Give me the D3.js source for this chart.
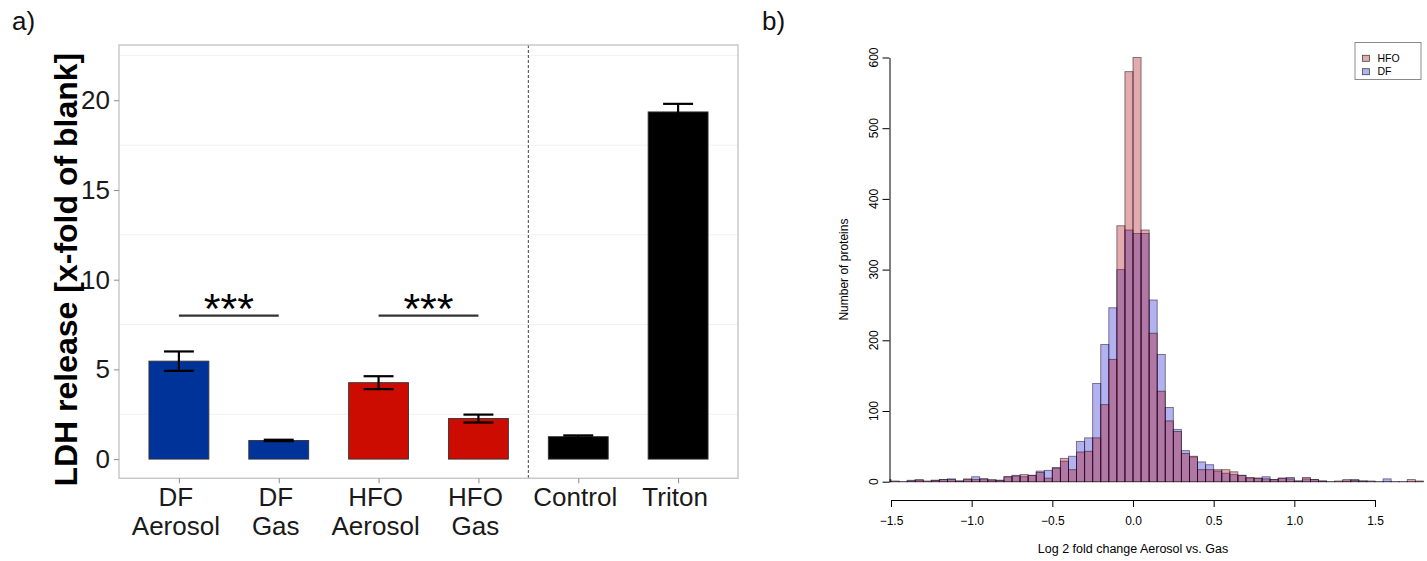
<!DOCTYPE html>
<html lang="en">
<head>
  <meta charset="UTF-8">
  <title>LDH release and log2 fold change</title>
  <script src="https://cdn.jsdelivr.net/npm/d3@7"></script>
  <style>
    body { margin: 0; background: #fff; }
    svg { display: block; font-family: "Liberation Sans", Arial, Helvetica, sans-serif; }
  </style>
</head>
<body>
<svg id="chart" width="1427" height="561"></svg>
<script>
  // ---- panel a : LDH release ----
  const categories = ["DF Aerosol", "DF Gas", "HFO Aerosol", "HFO Gas", "Control", "Triton"];
  const labelTop = ["DF", "DF", "HFO", "HFO", "Control", "Triton"];
  const labelBottom = ["Aerosol", "Gas", "Aerosol", "Gas", "", ""];
  const groups = ["DF", "DF", "HFO", "HFO", "ref", "ref"];
  const ldhMean = [5.46, 1.04, 4.26, 2.26, 1.25, 19.35];
  const ldhErr = [0.54, 0.04, 0.36, 0.22, 0.07, 0.45];
  const yTicksA = [0, 5, 10, 15, 20];
  const yMinorA = [2.5, 7.5, 12.5, 17.5, 22.5];
  const sigPairs = [["DF Aerosol", "DF Gas"], ["HFO Aerosol", "HFO Gas"]];
  const sigHeight = 8;
  const sigLabel = "***";

  // ---- panel b : histogram of log2 fold change ----
  const binWidth = 0.05;
  const binStart = [
    -1.60, -1.55, -1.50, -1.45, -1.40, -1.35, -1.30, -1.25, -1.20, -1.15,
    -1.10, -1.05, -1.00, -0.95, -0.90, -0.85, -0.80, -0.75, -0.70, -0.65,
    -0.60, -0.55, -0.50, -0.45, -0.40, -0.35, -0.30, -0.25, -0.20, -0.15,
    -0.10, -0.05, 0.00, 0.05, 0.10, 0.15, 0.20, 0.25, 0.30, 0.35,
    0.40, 0.45, 0.50, 0.55, 0.60, 0.65, 0.70, 0.75, 0.80, 0.85,
    0.90, 0.95, 1.00, 1.05, 1.10, 1.15, 1.20, 1.25, 1.30, 1.35,
    1.40, 1.45, 1.50, 1.55, 1.60, 1.65, 1.70, 1.75
  ];
  const hfoCounts = [
    1, 1, 1, 0, 1, 3, 1, 2, 3, 3,
    1, 4, 3, 4, 3, 2, 7, 8, 10, 9,
    13, 5, 19, 33, 17, 42, 43, 62, 109, 173,
    362, 580, 600, 356, 210, 128, 86, 71, 40, 36,
    17, 17, 17, 17, 14, 9, 6, 5, 4, 3,
    5, 4, 1, 6, 3, 1, 0, 1, 3, 2,
    1, 1, 0, 0, 0, 0, 3, 1
  ];
  const dfCounts = [
    1, 3, 0, 0, 2, 2, 0, 2, 3, 4,
    1, 3, 7, 4, 2, 2, 7, 9, 7, 9,
    15, 16, 20, 29, 36, 57, 62, 139, 194, 246,
    300, 356, 351, 351, 257, 180, 105, 74, 44, 35,
    28, 24, 15, 12, 10, 9, 5, 5, 7, 3,
    5, 6, 1, 4, 3, 1, 0, 0, 1, 3,
    1, 0, 0, 4, 0, 0, 0, 0
  ];
  const xTicksB = [-1.5, -1, -0.5, 0, 0.5, 1, 1.5];
  const yTicksB = [0, 100, 200, 300, 400, 500, 600];
  const legendLabels = ["HFO", "DF"];

  const svg = d3.select("#chart");

  // =========================== panel a ===========================
  const A = { left: 119, right: 738, top: 45, bottom: 478.3 };
  const groupColor = { DF: "#003399", HFO: "#cc0c00", ref: "#000000" };

  const xA = d3.scalePoint().domain(categories).range([A.left, A.right]).padding(0.6);
  const yA = d3.scaleLinear().domain([-1.07, 23.08]).range([A.bottom, A.top]);
  const barW = xA.step() * 0.6;
  const whisk = xA.step() * 0.3;

  svg.append("text").attr("x", 12).attr("y", 30)
     .attr("font-size", 26).attr("fill", "#111").text("a)");

  // faint grid
  svg.append("g").selectAll("line").data(yMinorA).join("line")
     .attr("x1", A.left).attr("x2", A.right)
     .attr("y1", d => yA(d)).attr("y2", d => yA(d))
     .attr("stroke", "#f1f1f1").attr("stroke-width", 1);

  // bars
  const barData = categories.map((c, i) => ({ c, g: groups[i], m: ldhMean[i], e: ldhErr[i] }));
  svg.append("g").selectAll("rect").data(barData).join("rect")
     .attr("x", d => xA(d.c) - barW / 2)
     .attr("y", d => yA(d.m))
     .attr("width", barW)
     .attr("height", d => yA(0) - yA(d.m))
     .attr("fill", d => groupColor[d.g])
     .attr("stroke", "#333").attr("stroke-width", 0.9);

  // error bars
  const err = svg.append("g").attr("stroke", "#000").attr("stroke-width", 2.2).attr("fill", "none");
  barData.forEach(d => {
    const x = xA(d.c);
    err.append("line").attr("x1", x).attr("x2", x).attr("y1", yA(d.m - d.e)).attr("y2", yA(d.m + d.e));
    err.append("line").attr("x1", x - whisk / 2).attr("x2", x + whisk / 2).attr("y1", yA(d.m + d.e)).attr("y2", yA(d.m + d.e));
    err.append("line").attr("x1", x - whisk / 2).attr("x2", x + whisk / 2).attr("y1", yA(d.m - d.e)).attr("y2", yA(d.m - d.e));
  });

  // significance brackets
  sigPairs.forEach(([a, b]) => {
    svg.append("line")
       .attr("x1", xA(a)).attr("x2", xA(b))
       .attr("y1", yA(sigHeight)).attr("y2", yA(sigHeight))
       .attr("stroke", "#333").attr("stroke-width", 2.2);
    svg.append("text")
       .attr("x", (xA(a) + xA(b)) / 2).attr("y", yA(sigHeight) + 7)
       .attr("text-anchor", "middle").attr("font-size", 43).attr("fill", "#000")
       .text(sigLabel);
  });

  // dashed separator between samples and controls
  const sepX = (xA("HFO Gas") + xA("Control")) / 2;
  svg.append("line").attr("x1", sepX).attr("x2", sepX).attr("y1", A.top).attr("y2", A.bottom)
     .attr("stroke", "#444").attr("stroke-width", 1).attr("stroke-dasharray", "3,2");

  // panel border
  svg.append("rect").attr("x", A.left).attr("y", A.top)
     .attr("width", A.right - A.left).attr("height", A.bottom - A.top)
     .attr("fill", "none").attr("stroke", "#c6c6c6").attr("stroke-width", 1.4);

  // y axis
  const yAxisA = svg.append("g").attr("transform", `translate(${A.left},0)`)
     .call(d3.axisLeft(yA).tickValues(yTicksA).tickSize(5).tickPadding(4));
  yAxisA.select(".domain").remove();
  yAxisA.selectAll("line").attr("stroke", "#8a8a8a");
  yAxisA.selectAll("text").attr("font-size", 26).attr("font-family", "Liberation Sans, Arial, sans-serif").attr("fill", "#1a1a1a");

  // x axis (ticks only, two-line labels below)
  const xAxisA = svg.append("g").attr("transform", `translate(0,${A.bottom})`)
     .call(d3.axisBottom(xA).tickSize(5).tickFormat(""));
  xAxisA.select(".domain").remove();
  xAxisA.selectAll("line").attr("stroke", "#8a8a8a");

  const xLab = svg.append("g").attr("font-size", 26).attr("fill", "#1a1a1a").attr("text-anchor", "middle");
  categories.forEach((c, i) => {
    xLab.append("text").attr("x", xA(c) - 3).attr("y", 505.5).text(labelTop[i]);
    if (labelBottom[i]) xLab.append("text").attr("x", xA(c) - 3).attr("y", 534.5).text(labelBottom[i]);
  });

  svg.append("text")
     .attr("transform", `translate(77,${(A.top + A.bottom) / 2 + 8}) rotate(-90)`)
     .attr("text-anchor", "middle").attr("font-size", 32).attr("font-weight", "bold").attr("fill", "#000")
     .text("LDH release [x-fold of blank]");

  // =========================== panel b ===========================
  const xB = d3.scaleLinear().domain([-1.5, 1.5]).range([891, 1375]);
  const yB = d3.scaleLinear().domain([0, 600]).range([481.7, 57.5]);
  const axisXB = 889.5, axisYB = 500;

  svg.append("text").attr("x", 762).attr("y", 30)
     .attr("font-size", 26).attr("fill", "#111").text("b)");

  // bars outside the plot region are clipped, as in the original
  svg.append("defs").append("clipPath").attr("id", "plotB")
     .append("rect").attr("x", axisXB).attr("y", 0).attr("width", 1427 - axisXB).attr("height", 561);

  const colDF = "rgba(0,0,210,0.3)";
  const colHFO = "rgba(175,10,20,0.34)";
  const histG = svg.append("g").attr("clip-path", "url(#plotB)");

  function drawHist(counts, fill) {
    // empty bins still get a flat outline on the baseline (tiny height keeps the rect rendered)
    histG.append("g").selectAll("rect").data(counts).join("rect")
       .attr("x", (d, i) => xB(binStart[i]))
       .attr("width", (d, i) => xB(binStart[i] + binWidth) - xB(binStart[i]))
       .attr("y", d => yB(d) - (d === 0 ? 0.01 : 0))
       .attr("height", d => Math.max(yB(0) - yB(d), 0.01))
       .attr("fill", fill)
       .attr("stroke", "rgba(20,10,30,0.55)").attr("stroke-width", 0.9);
  }
  drawHist(dfCounts, colDF);
  drawHist(hfoCounts, colHFO);

  // y axis, R style with rotated labels
  const yAxisB = svg.append("g").attr("transform", `translate(${axisXB},0)`)
     .call(d3.axisLeft(yB).tickValues(yTicksB).tickSize(7).tickSizeOuter(0));
  yAxisB.selectAll("text").remove();
  yAxisB.selectAll("line, path").attr("stroke", "#000");
  svg.append("g").selectAll("text").data(yTicksB).join("text")
     .attr("transform", d => `translate(${axisXB - 12},${yB(d)}) rotate(-90)`)
     .attr("text-anchor", "middle").attr("font-size", 12).attr("fill", "#000")
     .text(d => d);

  // x axis
  const xAxisB = svg.append("g").attr("transform", `translate(0,${axisYB})`)
     .call(d3.axisBottom(xB).tickValues(xTicksB).tickSize(7).tickSizeOuter(0).tickPadding(9)
       .tickFormat(d3.format(".1f")));
  xAxisB.selectAll("line, path").attr("stroke", "#000");
  xAxisB.selectAll("text").attr("font-size", 12).attr("font-family", "Liberation Sans, Arial, sans-serif").attr("fill", "#000");

  svg.append("text").attr("x", xB(0)).attr("y", 553)
     .attr("text-anchor", "middle").attr("font-size", 12.5).attr("fill", "#000")
     .text("Log 2 fold change Aerosol vs. Gas");

  svg.append("text")
     .attr("transform", `translate(${axisXB - 42},${(yB(0) + yB(600)) / 2}) rotate(-90)`)
     .attr("text-anchor", "middle").attr("font-size", 12).attr("fill", "#000")
     .text("Number of proteins");

  // legend
  const leg = svg.append("g");
  leg.append("rect").attr("x", 1355).attr("y", 42.5).attr("width", 66).attr("height", 37)
     .attr("fill", "#fff").attr("stroke", "#8a8a8a").attr("stroke-width", 1);
  [colHFO, colDF].forEach((c, i) => {
    const cy = 58.3 + i * 13.4;
    leg.append("rect").attr("x", 1362.5).attr("y", cy - 3).attr("width", 7).attr("height", 6)
       .attr("fill", c).attr("stroke", "#444").attr("stroke-width", 0.8);
    leg.append("text").attr("x", 1377.5).attr("y", cy + 3.6)
       .attr("font-size", 10.5).attr("fill", "#000").text(legendLabels[i]);
  });
</script>
</body>
</html>
